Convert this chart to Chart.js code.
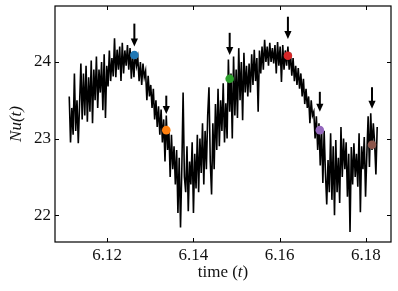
<!DOCTYPE html>
<html>
<head>
<meta charset="utf-8">
<script src="https://cdn.jsdelivr.net/npm/chart.js@4.4.1/dist/chart.umd.min.js"></script>
<style>
  html, body { margin: 0; padding: 0; background: #fff; }
  #wrap { width: 398px; height: 291px; }
</style>
</head>
<body>
<div id="wrap"><canvas id="nuChart" width="398" height="291"></canvas></div>
<script>
// sampling of the Nusselt trace
const tStart = 6.1112;
const tStep = 0.0003;
const nuValues = [
  23.55, 22.95, 23.4, 23.05, 23.85, 23.1, 23.5, 22.94, 23.45, 23.98,
  23.25, 23.85, 23.3, 23.95, 23.22, 23.8, 23.35, 24.02, 23.2, 23.9,
  23.5, 24.07, 23.4, 23.9, 23.6, 24.0, 23.37, 24.1, 23.27, 23.95,
  23.68, 24.15, 23.75, 24.05, 23.81, 24.31, 23.8, 24.16, 23.9, 24.2,
  23.75, 24.25, 23.85, 24.15, 23.95, 24.22, 23.9, 24.18, 23.78, 24.1,
  23.8, 24.12, 23.95, 24.05, 23.75, 24.0, 23.7, 23.98, 23.8, 23.88,
  23.5, 23.82, 23.55, 23.7, 23.4, 23.65, 23.25, 23.5, 23.15, 23.42,
  23.05, 23.38, 22.95, 23.25, 22.7, 23.3, 22.85, 23.12, 22.5, 23.05,
  22.6, 22.9, 22.4, 22.85, 22.03, 22.75, 21.84, 22.6, 23.6, 22.5,
  22.3, 22.9, 22.05, 22.7, 22.4, 22.95, 22.03, 22.8, 22.35, 23.05,
  22.3, 23.0, 22.55, 23.2, 22.4, 23.1, 22.6, 23.3, 23.67, 22.7,
  22.27, 23.2, 22.6, 23.45, 22.85, 23.65, 22.9, 23.5, 23.1, 23.72,
  22.95, 23.46, 23.0, 24.03, 23.35, 23.85, 23.0, 24.07, 23.3, 23.9,
  23.27, 24.18, 23.5, 24.0, 23.24, 24.12, 23.6, 23.95, 23.55, 23.98,
  23.6, 24.1, 23.7, 24.16, 23.75, 24.05, 23.35, 24.15, 23.85, 24.2,
  23.9, 24.29, 24.0, 24.2, 23.95, 24.25, 24.0, 24.18, 23.98, 24.22,
  23.85, 24.26, 23.95, 24.2, 23.74, 24.22, 23.9, 24.15, 23.95, 24.2,
  23.9, 24.12, 23.82, 24.05, 23.75, 23.95, 23.7, 23.92, 23.65, 23.85,
  23.55, 23.78, 23.45, 23.65, 23.4, 23.55, 23.2, 23.5, 23.3, 23.35,
  23.0, 23.29, 22.85, 23.2, 22.65, 23.15, 22.42, 23.1, 22.55, 22.14,
  22.72, 22.3, 23.07, 22.2, 22.9, 22.0, 22.98, 22.3, 22.75, 22.16,
  23.15, 22.5, 23.0, 22.6, 22.95, 22.24, 22.8, 21.78, 22.89, 22.4,
  22.94, 22.5, 22.8, 22.37, 23.07, 22.04, 22.9, 22.6, 23.02, 22.24,
  22.8, 23.29, 22.63, 23.33, 22.85, 23.2, 22.95, 22.53, 23.15
];

// marked instants
const markTimes = [6.1263, 6.1337, 6.1484, 6.1619, 6.1693, 6.1814];
const markNu = [24.09, 23.11, 23.78, 24.08, 23.11, 22.92];
const markColors = ["#1f77b4", "#ff7f0e", "#2ca02c", "#d62728", "#9467bd", "#8c564b"];
const arrowTop = [24.50, 23.56, 24.38, 24.59, 23.61, 23.67];
const arrowTip = [24.20, 23.32, 24.09, 24.30, 23.35, 23.39];

const xTickValues = [6.12, 6.14, 6.16, 6.18];
const yTickValues = [22, 23, 24];

const serif = "'Liberation Serif', 'DejaVu Serif', serif";
const textColor = "#111";

const tracePoints = nuValues.map((v, i) => ({ x: tStart + i * tStep, y: v }));
const markPoints = markTimes.map((t, i) => ({ x: t, y: markNu[i] }));

const frameAndArrows = {
  id: "frameAndArrows",
  afterDatasetsDraw(chart) {
    const ctx = chart.ctx;
    const area = chart.chartArea;
    const xs = chart.scales.x;
    const ys = chart.scales.y;
    ctx.save();
    ctx.strokeStyle = "#000";
    ctx.lineWidth = 1.2;
    ctx.strokeRect(area.left, area.top, area.right - area.left, area.bottom - area.top);

    ctx.lineWidth = 1;
    const tl = 4;
    ctx.beginPath();
    xTickValues.forEach(v => {
      const px = Math.round(xs.getPixelForValue(v)) + 0.5;
      ctx.moveTo(px, area.bottom); ctx.lineTo(px, area.bottom - tl);
      ctx.moveTo(px, area.top); ctx.lineTo(px, area.top + tl);
    });
    yTickValues.forEach(v => {
      const py = Math.round(ys.getPixelForValue(v)) + 0.5;
      ctx.moveTo(area.left, py); ctx.lineTo(area.left + tl, py);
      ctx.moveTo(area.right, py); ctx.lineTo(area.right - tl, py);
    });
    ctx.stroke();

    // arrows pointing at the marked instants
    ctx.fillStyle = "#000";
    markTimes.forEach((t, i) => {
      const x = xs.getPixelForValue(t);
      const y1 = ys.getPixelForValue(arrowTop[i]);
      const y2 = ys.getPixelForValue(arrowTip[i]);
      ctx.lineWidth = 2;
      ctx.beginPath();
      ctx.moveTo(x, y1);
      ctx.lineTo(x, y2 - 6);
      ctx.stroke();
      ctx.beginPath();
      ctx.moveTo(x - 3.6, y2 - 8);
      ctx.lineTo(x + 3.6, y2 - 8);
      ctx.lineTo(x, y2);
      ctx.closePath();
      ctx.fill();
    });

    // x axis title: "time (t)" with italic t
    const parts = [["time (", ""], ["t", "italic "], [")", ""]];
    let total = 0;
    parts.forEach(p => { ctx.font = p[1] + "17px " + serif; total += ctx.measureText(p[0]).width; });
    let cx = (area.left + area.right) / 2 - total / 2;
    const baseY = 277;
    ctx.fillStyle = textColor;
    ctx.textBaseline = "alphabetic";
    ctx.textAlign = "left";
    parts.forEach(p => {
      ctx.font = p[1] + "17px " + serif;
      ctx.fillText(p[0], cx, baseY);
      cx += ctx.measureText(p[0]).width;
    });
    ctx.restore();
  }
};

new Chart(document.getElementById("nuChart"), {
  type: "line",
  data: {
    datasets: [
      {
        type: "scatter",
        data: markPoints,
        pointRadius: 4.3,
        pointBackgroundColor: markColors,
        pointBorderWidth: 0,
        order: 0
      },
      {
        data: tracePoints,
        borderColor: "#000",
        borderWidth: 1.6,
        pointRadius: 0,
        tension: 0,
        order: 1
      }
    ]
  },
  options: {
    responsive: false,
    animation: false,
    layout: { padding: { top: 6, right: 7, left: 0, bottom: 0 } },
    plugins: { legend: { display: false }, tooltip: { enabled: false } },
    scales: {
      x: {
        type: "linear",
        min: 6.1079,
        max: 6.1858,
        grid: { display: false, drawTicks: false },
        border: { display: false },
        afterBuildTicks: s => { s.ticks = xTickValues.map(v => ({ value: v })); },
        afterFit: s => { s.height = 49; s.paddingLeft = 0; s.paddingRight = 0; },
        ticks: {
          padding: 3,
          color: textColor,
          font: { family: serif, size: 17 },
          callback: v => v.toFixed(2)
        },
        title: { display: false }
      },
      y: {
        min: 21.65,
        max: 24.73,
        grid: { display: false, drawTicks: false },
        border: { display: false },
        afterBuildTicks: s => { s.ticks = yTickValues.map(v => ({ value: v })); },
        afterFit: s => { s.width = 55; s.paddingTop = 0; s.paddingBottom = 0; },
        ticks: {
          padding: 4,
          color: textColor,
          font: { family: serif, size: 17 },
          callback: v => String(v)
        },
        title: {
          display: true,
          text: "Nu(t)",
          color: textColor,
          font: { family: serif, size: 17, style: "italic" },
          padding: { top: 6, bottom: 0 }
        }
      }
    }
  },
  plugins: [frameAndArrows]
});
</script>
</body>
</html>
